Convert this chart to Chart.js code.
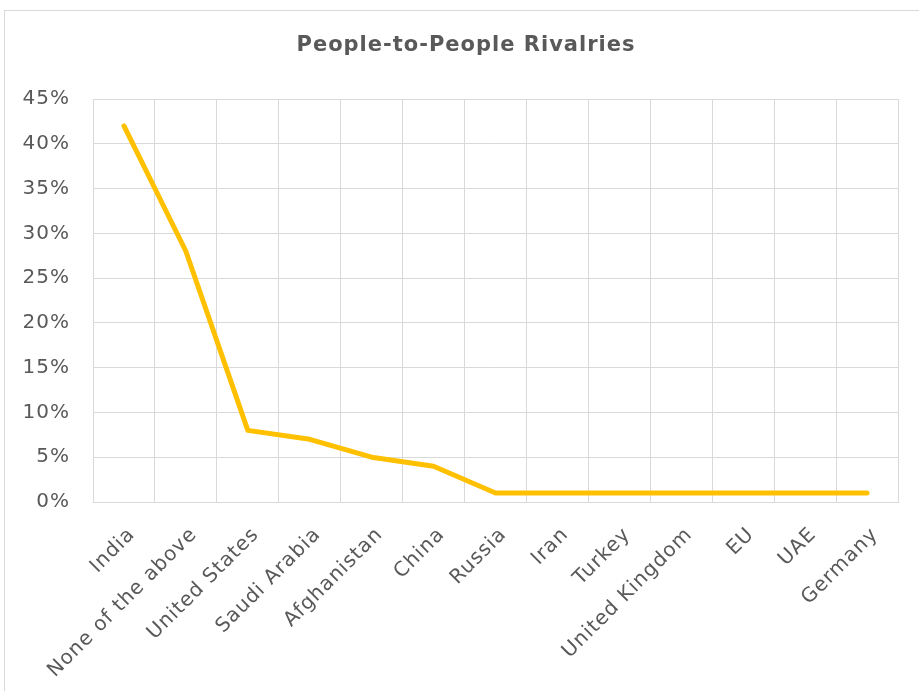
<!DOCTYPE html>
<html><head><meta charset="utf-8">
<script src="https://cdn.jsdelivr.net/npm/chart.js@4/dist/chart.umd.min.js"></script>
<style>html,body{margin:0;padding:0;background:#fff;}#wrap{width:919px;height:691px;position:relative;}</style>
</head><body><div id="wrap"><canvas id="c" width="919" height="691"></canvas></div>
<script>
const chartTitle = "People-to-People Rivalries";
const categories = ["India","None of the above","United States","Saudi Arabia","Afghanistan","China","Russia","Iran","Turkey","United Kingdom","EU","UAE","Germany"];
const shares = [42, 28, 8, 7, 5, 4, 1, 1, 1, 1, 1, 1, 1];
const yTickValues = [0, 5, 10, 15, 20, 25, 30, 35, 40, 45];

const spacing = {
  id: 'spacing',
  beforeInit(chart) { chart.ctx.letterSpacing = '1px'; },
  beforeUpdate(chart) { chart.ctx.letterSpacing = '1px'; }
};

const frame = {
  id: 'frame',
  beforeDraw(chart) {
    const ctx = chart.ctx;
    ctx.save();
    ctx.fillStyle = '#ffffff';
    ctx.fillRect(0, 0, chart.width, chart.height);
    ctx.strokeStyle = '#d9d9d9';
    ctx.lineWidth = 1;
    ctx.strokeRect(4.5, 10.5, chart.width + 10, chart.height + 10);
    ctx.restore();
  },
  afterDraw(chart) {
    const ctx = chart.ctx;
    ctx.save();
    ctx.letterSpacing = '1px';
    ctx.fillStyle = '#595959';
    ctx.font = 'bold 21px "DejaVu Sans"';
    ctx.textAlign = 'center';
    ctx.textBaseline = 'middle';
    ctx.fillText(chartTitle, 466, 46);
    ctx.restore();
  }
};

new Chart(document.getElementById('c'), {
  type: 'line',
  data: {
    labels: categories,
    datasets: [{
      data: shares,
      borderColor: '#FFC000',
      backgroundColor: '#FFC000',
      borderWidth: 5,
      pointRadius: 0,
      tension: 0,
      fill: false,
      borderCapStyle: 'round',
      borderJoinStyle: 'round'
    }]
  },
  options: {
    responsive: false,
    devicePixelRatio: 1,
    animation: false,
    layout: { padding: { left: 5, right: 21, top: 99, bottom: 0 } },
    plugins: {
      legend: { display: false },
      tooltip: { enabled: false },
      title: { display: false }
    },
    scales: {
      x: {
        type: 'category',
        offset: true,
        grid: { display: true, offset: true, color: '#d9d9d9', lineWidth: 1, drawTicks: false },
        border: { display: true, color: '#d9d9d9' },
        ticks: {
          color: '#595959',
          font: { family: 'DejaVu Sans', size: 20 },
          minRotation: 45, maxRotation: 45,
          autoSkip: false,
          padding: 21,
          labelOffset: 8
        },
        afterFit(scale) { scale.height = 189; }
      },
      y: {
        min: 0, max: 45,
        afterBuildTicks(scale) { scale.ticks = yTickValues.map(v => ({ value: v })); },
        grid: { color: '#d9d9d9', lineWidth: 1, drawTicks: false },
        border: { display: false },
        ticks: {
          color: '#595959',
          font: { family: 'DejaVu Sans', size: 20 },
          padding: 23,
          callback: v => v + '%'
        },
        afterFit(scale) { scale.width = 88; }
      }
    }
  },
  plugins: [spacing, frame]
});
</script>
</body></html>
